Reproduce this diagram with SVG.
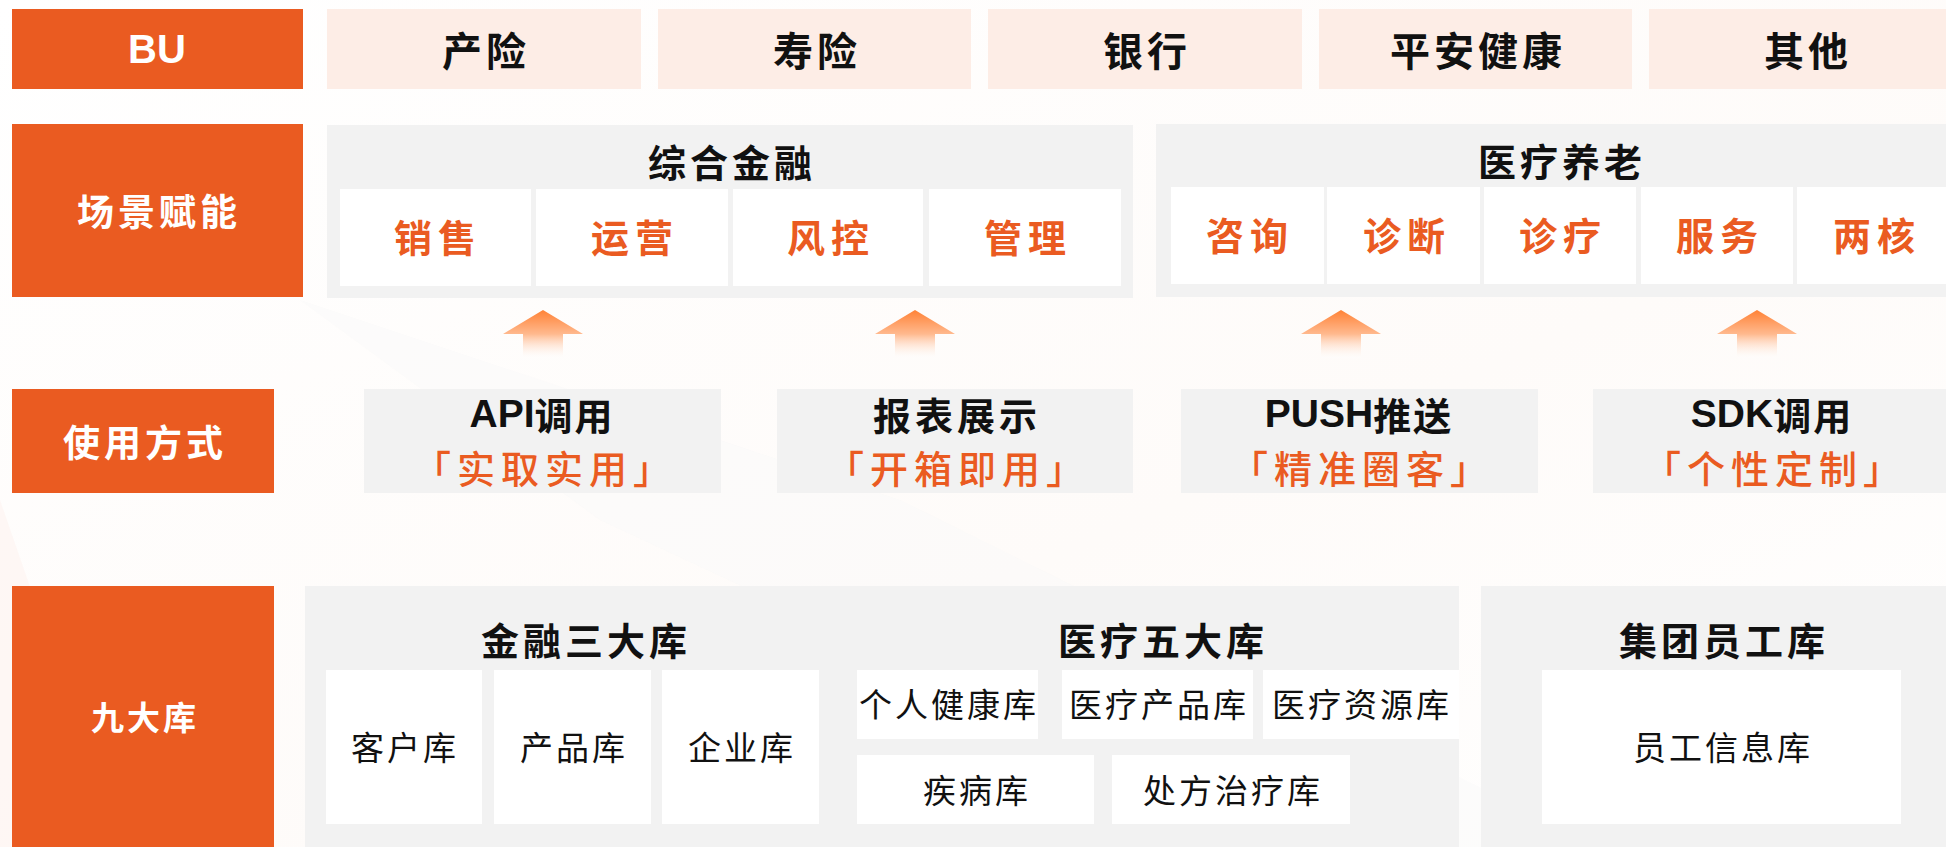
<svg xmlns="http://www.w3.org/2000/svg" width="1946" height="847" viewBox="0 0 1946 847">
<defs>
<linearGradient id="arrowGrad" x1="0" y1="0" x2="0" y2="1">
<stop offset="0" stop-color="#FF8236"/>
<stop offset="0.5" stop-color="#FFB98E"/>
<stop offset="1" stop-color="#FFFFFF" stop-opacity="0.2"/>
</linearGradient>
<linearGradient id="bgGrad" x1="0" y1="0" x2="1" y2="1">
<stop offset="0" stop-color="#FFFFFF"/>
<stop offset="0.6" stop-color="#FEFBF9"/>
<stop offset="1" stop-color="#FFFFFF"/>
</linearGradient>
<g id="upArrow">
<path d="M0,0 L40,24 L20,24 L20,48 L-20,48 L-20,24 L-40,24 Z" fill="url(#arrowGrad)"/>
</g>
</defs>
<style>
.lbl{fill:#EA5B21}
.bu{fill:#FDEDE6}
.panel{fill:#F2F2F2}
.cell{fill:#FFFFFF}
text{font-family:"Noto Sans CJK SC","Liberation Sans",sans-serif;text-anchor:middle;dominant-baseline:central}
.wt{fill:#FFFFFF;font-size:37px;font-weight:700;letter-spacing:4px}
.bt{fill:#111111;font-size:38px;font-weight:700;letter-spacing:4px}
.ot{fill:#EA5B21;font-size:38px;font-weight:700;letter-spacing:6px}
.br{fill:#EA5B21;font-size:38px;font-weight:500;letter-spacing:6px}
.nt{fill:#111111;font-size:33px;font-weight:400;letter-spacing:3px}
.en{font-family:"Liberation Sans","Noto Sans CJK SC",sans-serif;letter-spacing:0}
</style>
<rect x="0" y="0" width="1946" height="847" fill="url(#bgGrad)"/>
<polygon points="0,500 0,847 120,847" fill="#FDF4F0" opacity="0.6"/>
<polygon points="300,300 900,500 1600,847 1300,847 600,520" fill="#FAFAFA" opacity="0.5"/>

<g id="row-bu">
<g id="bu-label"><rect class="lbl" x="12" y="9" width="291" height="80"/><text class="wt en" x="157" y="49" style="font-size:40px">BU</text></g>
<g id="bu-chanxian"><rect class="bu" x="327" y="9" width="314" height="80"/><text class="bt" x="486" y="49" style="font-size:40px">产险</text></g>
<g id="bu-shouxian"><rect class="bu" x="658" y="9" width="313" height="80"/><text class="bt" x="817" y="49" style="font-size:40px">寿险</text></g>
<g id="bu-yinhang"><rect class="bu" x="988" y="9" width="314" height="80"/><text class="bt" x="1147" y="49" style="font-size:40px">银行</text></g>
<g id="bu-pajk"><rect class="bu" x="1319" y="9" width="313" height="80"/><text class="bt" x="1478" y="49" style="font-size:40px">平安健康</text></g>
<g id="bu-qita"><rect class="bu" x="1649" y="9" width="314" height="80"/><text class="bt" x="1808" y="49" style="font-size:40px">其他</text></g>
</g>

<g id="row-scene">
<g id="scene-label"><rect class="lbl" x="12" y="124" width="291" height="173"/><text class="wt" x="159" y="210">场景赋能</text></g>
<g id="scene-finance">
<rect class="panel" x="327" y="125" width="806" height="173"/>
<text class="bt" x="732" y="160">综合金融</text>
<rect class="cell" x="340" y="189" width="191" height="97"/><text class="ot" x="438" y="235">销售</text>
<rect class="cell" x="536" y="189" width="192" height="97"/><text class="ot" x="635" y="235">运营</text>
<rect class="cell" x="733" y="189" width="190" height="97"/><text class="ot" x="831" y="235">风控</text>
<rect class="cell" x="929" y="189" width="192" height="97"/><text class="ot" x="1028" y="235">管理</text>
</g>
<g id="scene-medical">
<rect class="panel" x="1156" y="124" width="800" height="173"/>
<text class="bt" x="1562" y="159">医疗养老</text>
<rect class="cell" x="1171" y="187" width="153" height="97"/><text class="ot" x="1250" y="233">咨询</text>
<rect class="cell" x="1327" y="187" width="153" height="97"/><text class="ot" x="1407" y="233">诊断</text>
<rect class="cell" x="1484" y="187" width="152" height="97"/><text class="ot" x="1563" y="233">诊疗</text>
<rect class="cell" x="1641" y="187" width="152" height="97"/><text class="ot" x="1720" y="233">服务</text>
<rect class="cell" x="1797" y="187" width="160" height="97"/><text class="ot" x="1877" y="233">两核</text>
</g>
</g>

<g id="connectors">
<use href="#upArrow" x="543" y="310"/>
<use href="#upArrow" x="915" y="310"/>
<use href="#upArrow" x="1341" y="310"/>
<use href="#upArrow" x="1757" y="310"/>
</g>

<g id="row-usage">
<g id="usage-label"><rect class="lbl" x="12" y="389" width="262" height="104"/><text class="wt" x="145" y="441">使用方式</text></g>
<g id="usage-api"><rect class="panel" x="364" y="389" width="357" height="104"/>
<text class="bt" x="542" y="413" style="letter-spacing:2px"><tspan class="en" style="font-size:39px">API</tspan>调用</text>
<text class="br" x="545" y="466">「实取实用」</text></g>
<g id="usage-report"><rect class="panel" x="777" y="389" width="356" height="104"/>
<text class="bt" x="957" y="413">报表展示</text>
<text class="br" x="958" y="466">「开箱即用」</text></g>
<g id="usage-push"><rect class="panel" x="1181" y="389" width="357" height="104"/>
<text class="bt" x="1359" y="413" style="letter-spacing:2px"><tspan class="en" style="font-size:39px">PUSH</tspan>推送</text>
<text class="br" x="1362" y="466">「精准圈客」</text></g>
<g id="usage-sdk"><rect class="panel" x="1593" y="389" width="360" height="104"/>
<text class="bt" x="1772" y="413" style="letter-spacing:2px"><tspan class="en" style="font-size:39px">SDK</tspan>调用</text>
<text class="br" x="1775" y="466">「个性定制」</text></g>
</g>

<g id="row-lib">
<g id="lib-label"><rect class="lbl" x="12" y="586" width="262" height="270"/><text class="wt" x="145" y="716" style="font-size:33px;letter-spacing:3px">九大库</text></g>
<g id="lib-main">
<rect class="panel" x="305" y="586" width="1154" height="270"/>
<text class="bt" x="586" y="638">金融三大库</text>
<rect class="cell" x="326" y="670" width="156" height="154"/><text class="nt" x="405" y="746">客户库</text>
<rect class="cell" x="494" y="670" width="157" height="154"/><text class="nt" x="574" y="746">产品库</text>
<rect class="cell" x="662" y="670" width="157" height="154"/><text class="nt" x="742" y="746">企业库</text>
<text class="bt" x="1163" y="638">医疗五大库</text>
<rect class="cell" x="857" y="670" width="181" height="69"/><text class="nt" x="949" y="703">个人健康库</text>
<rect class="cell" x="1062" y="670" width="191" height="69"/><text class="nt" x="1159" y="703">医疗产品库</text>
<rect class="cell" x="1263" y="670" width="196" height="69"/><text class="nt" x="1362" y="703">医疗资源库</text>
<rect class="cell" x="857" y="755" width="237" height="69"/><text class="nt" x="977" y="789">疾病库</text>
<rect class="cell" x="1112" y="755" width="238" height="69"/><text class="nt" x="1233" y="789">处方治疗库</text>
</g>
<g id="lib-staff">
<rect class="panel" x="1481" y="586" width="470" height="270"/>
<text class="bt" x="1724" y="638">集团员工库</text>
<rect class="cell" x="1542" y="670" width="359" height="154"/><text class="nt" x="1723" y="746">员工信息库</text>
</g>
</g>
</svg>
